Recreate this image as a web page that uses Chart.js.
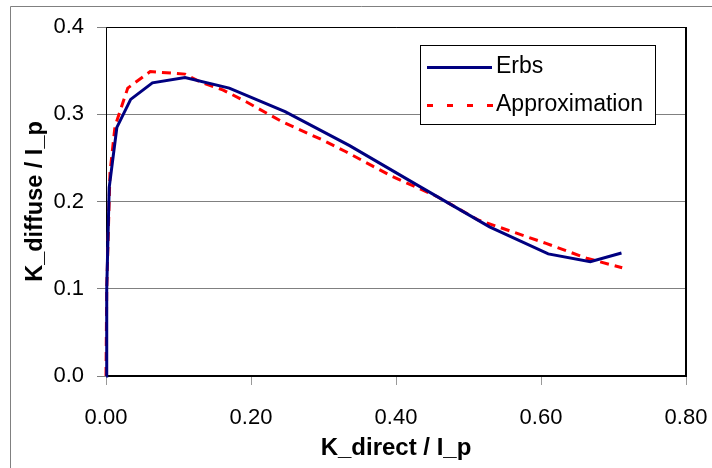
<!DOCTYPE html>
<html>
<head>
<meta charset="utf-8">
<script src="https://cdn.jsdelivr.net/npm/chart.js@4.4.1/dist/chart.umd.min.js"></script>
<style>
  body { margin: 0; background: #fff; }
  #wrap { width: 712px; height: 468px; }
</style>
</head>
<body>
<div id="wrap"><canvas id="kChart" width="712" height="468"></canvas></div>
<script>
// Erbs correlation
const erbsX = [0, 0.001, 0.0044, 0.015, 0.034, 0.064, 0.109, 0.170, 0.247, 0.336, 0.433, 0.529, 0.610, 0.668, 0.711];
const erbsY = [0, 0.099, 0.216, 0.285, 0.317, 0.336, 0.342, 0.330, 0.303, 0.264, 0.217, 0.171, 0.140, 0.131, 0.141];

// Approximation
const approxX = [0, 0.001, 0.0055, 0.0124, 0.030, 0.061, 0.109, 0.130, 0.161, 0.194, 0.244, 0.300, 0.331, 0.394, 0.456, 0.513, 0.607, 0.663, 0.712];
const approxY = [0, 0.100, 0.233, 0.286, 0.330, 0.349, 0.346, 0.337, 0.328, 0.314, 0.291, 0.270, 0.257, 0.229, 0.206, 0.179, 0.152, 0.135, 0.124];

const seriesNames = ['Erbs', 'Approximation'];
const xTicks = [0, 0.2, 0.4, 0.6, 0.8];
const yTicks = [0, 0.1, 0.2, 0.3, 0.4];

const FONT = "Arial, 'Liberation Sans', sans-serif";
const toPoints = (xs, ys) => xs.map((x, i) => ({ x: x, y: ys[i] }));

// plot border, outer frame and the boxed legend
const decorPlugin = {
    id: 'decor',
    beforeDatasetsDraw(chart) {
        const { ctx, chartArea: a } = chart;
        ctx.save();
        ctx.strokeStyle = '#000';
        ctx.lineWidth = 1;
        ctx.beginPath();
        ctx.moveTo(a.left + 0.5, a.bottom);
        ctx.lineTo(a.left + 0.5, a.top + 0.5);
        ctx.lineTo(a.right, a.top + 0.5);
        ctx.stroke();
        ctx.lineWidth = 2;
        ctx.beginPath();
        ctx.moveTo(a.right, a.top);
        ctx.lineTo(a.right, a.bottom);
        ctx.lineTo(a.left, a.bottom);
        ctx.stroke();
        ctx.restore();
    },
    afterDraw(chart) {
        const { ctx } = chart;
        ctx.save();
        // outer chart frame
        ctx.strokeStyle = '#808080';
        ctx.lineWidth = 1;
        ctx.beginPath();
        ctx.moveTo(10.5, 470);
        ctx.lineTo(10.5, 6.5);
        ctx.lineTo(714, 6.5);
        ctx.stroke();

        // legend box
        const bx = 420, by = 45, bw = 235, bh = 79;
        ctx.fillStyle = '#fff';
        ctx.fillRect(bx, by, bw, bh);
        ctx.strokeStyle = '#000';
        ctx.strokeRect(bx + 0.5, by + 0.5, bw, bh);

        ctx.lineWidth = 3;
        ctx.strokeStyle = '#000080';
        ctx.beginPath();
        ctx.moveTo(427, 67.5);
        ctx.lineTo(492, 67.5);
        ctx.stroke();

        ctx.strokeStyle = '#ff0000';
        ctx.setLineDash([6, 14]);
        ctx.beginPath();
        ctx.moveTo(427, 105.5);
        ctx.lineTo(493, 105.5);
        ctx.stroke();
        ctx.setLineDash([]);

        ctx.fillStyle = '#000';
        ctx.font = '23px ' + FONT;
        ctx.textBaseline = 'middle';
        ctx.textAlign = 'left';
        ctx.fillText(seriesNames[0], 496, 67);
        ctx.fillText(seriesNames[1], 496, 105);
        ctx.restore();
    }
};

const kCtx = document.getElementById('kChart').getContext('2d');
const kChart = new Chart(kCtx, {
    type: 'scatter',
    data: {
        datasets: [{
            label: seriesNames[0],
            data: toPoints(erbsX, erbsY),
            showLine: true,
            borderColor: '#000080',
            borderWidth: 3,
            pointRadius: 0,
            tension: 0,
            clip: false
        }, {
            label: seriesNames[1],
            data: toPoints(approxX, approxY),
            showLine: true,
            borderColor: '#ff0000',
            borderWidth: 3,
            borderDash: [9, 6],
            pointRadius: 0,
            tension: 0,
            clip: false
        }]
    },
    options: {
        responsive: false,
        animation: false,
        layout: {
            padding: { left: 0, top: 27, right: 26, bottom: 0 }
        },
        plugins: {
            legend: { display: false },
            tooltip: { enabled: false }
        },
        scales: {
            x: {
                type: 'linear',
                min: 0,
                max: 0.8,
                afterBuildTicks: (scale) => { scale.ticks = xTicks.map(v => ({ value: v })); },
                afterFit: (scale) => {
                    scale.height = 92;
                    scale.paddingLeft = 0;
                    scale.paddingRight = 0;
                },
                ticks: {
                    callback: (v) => v.toFixed(2),
                    color: '#000',
                    font: { family: FONT, size: 22 },
                    padding: 20,
                    maxRotation: 0
                },
                grid: {
                    drawOnChartArea: false,
                    drawTicks: true,
                    tickLength: 9,
                    tickColor: '#999'
                },
                border: { display: false },
                title: {
                    display: true,
                    text: 'K_direct / I_p',
                    color: '#000',
                    font: { family: FONT, size: 24, weight: 'bold' },
                    padding: { top: 0, bottom: 5 }
                }
            },
            y: {
                type: 'linear',
                min: 0,
                max: 0.4,
                afterBuildTicks: (scale) => { scale.ticks = yTicks.map(v => ({ value: v })); },
                afterFit: (scale) => {
                    scale.width = 106;
                    scale.paddingTop = 0;
                    scale.paddingBottom = 0;
                },
                ticks: {
                    callback: (v) => v.toFixed(1),
                    color: '#000',
                    font: { family: FONT, size: 22 },
                    padding: 13
                },
                grid: {
                    color: '#808080',
                    drawTicks: true,
                    tickLength: 9,
                    tickColor: '#808080'
                },
                border: { display: false },
                title: {
                    display: true,
                    text: 'K_diffuse / I_p',
                    color: '#000',
                    font: { family: FONT, size: 23.5, weight: 'bold' },
                    padding: { top: 21, bottom: 0 }
                }
            }
        }
    },
    plugins: [decorPlugin]
});
</script>
</body>
</html>
